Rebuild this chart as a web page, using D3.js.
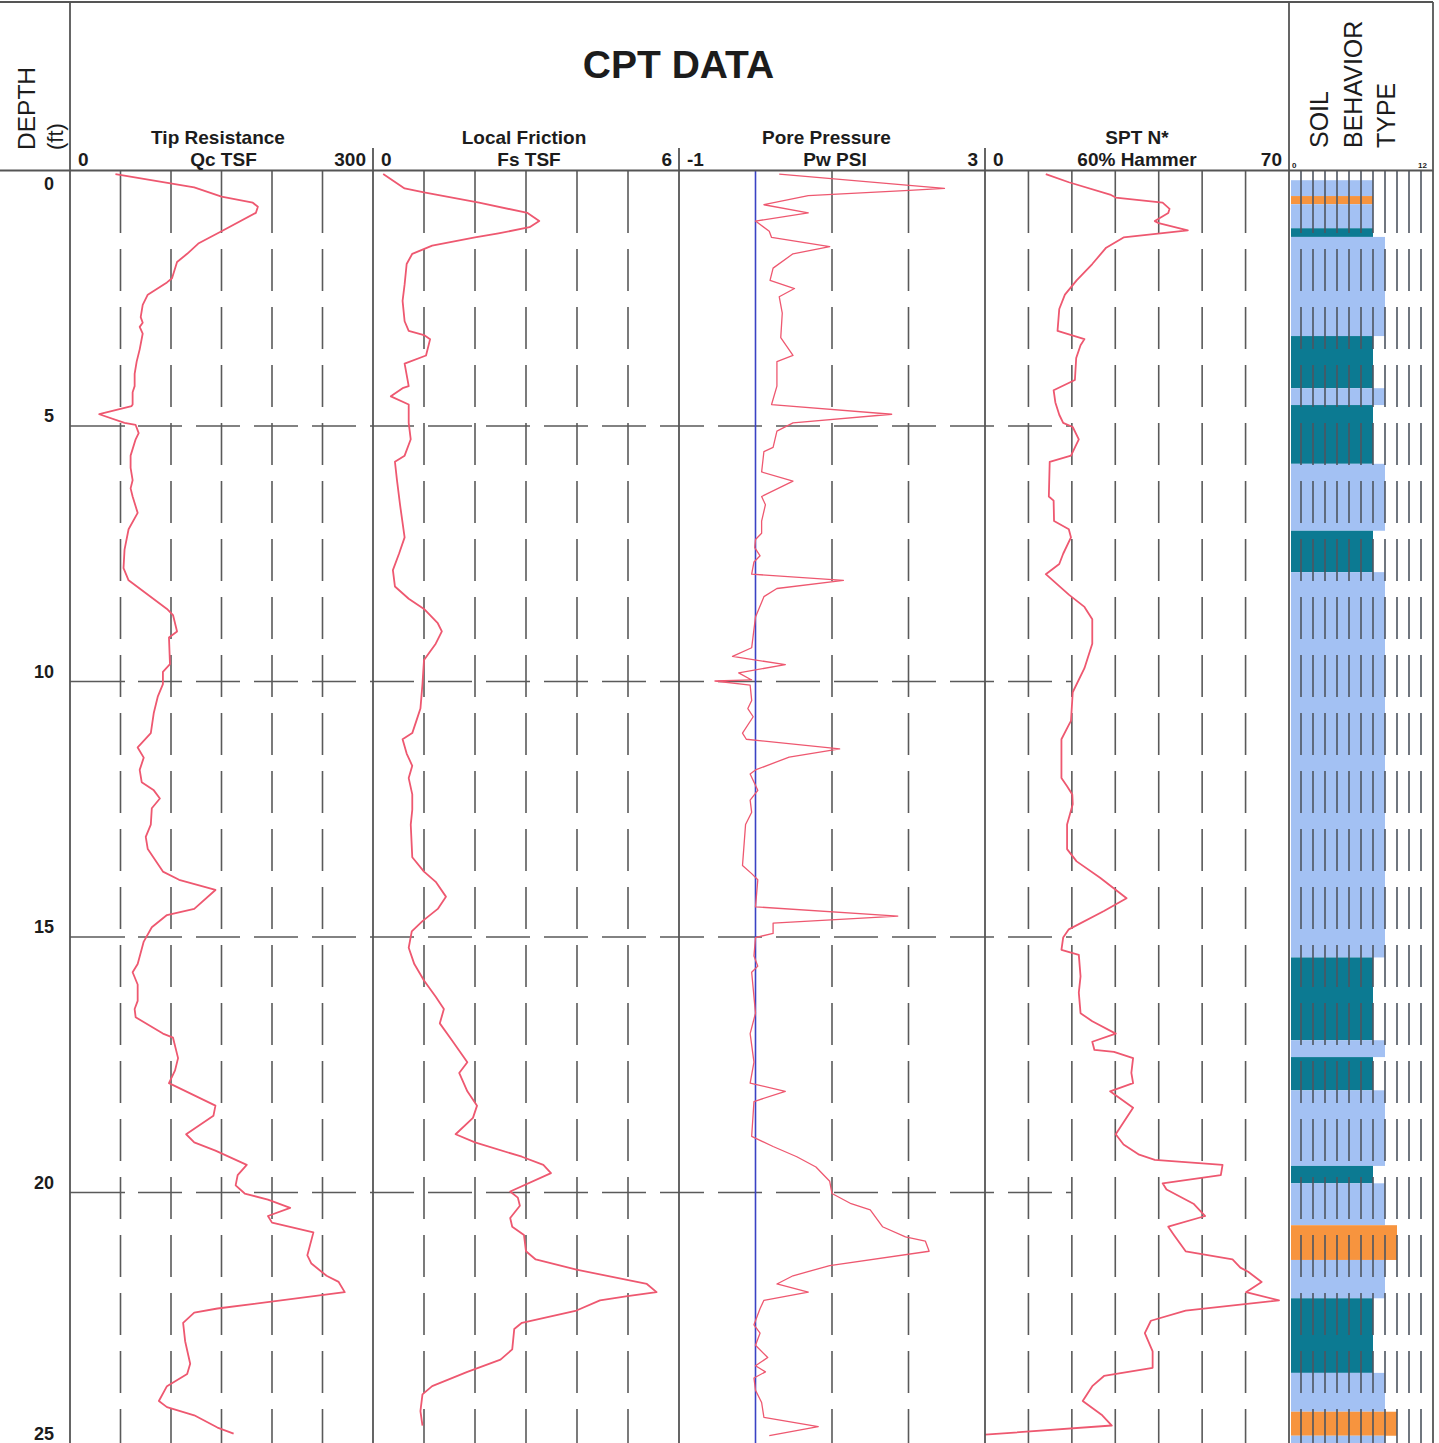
<!DOCTYPE html>
<html>
<head>
<meta charset="utf-8">
<script src="https://cdn.jsdelivr.net/npm/d3@7"></script>
<style>
  html, body { margin: 0; padding: 0; background: #fff; }
  svg { display: block; font-family: "Liberation Sans", Arial, sans-serif; }
</style>
</head>
<body>
<svg id="chart" width="1439" height="1443"></svg>
<script>
// ---- CPT sounding data: [depth ft, value] ----
const tipResistance = [
  [0.07,45],[0.33,123],[0.51,150],[0.63,181],[0.71,186],[0.83,184],[1.19,150],[1.43,127],[1.63,116],
  [1.79,106],[2.11,101],[2.19,96],[2.43,77],[2.63,72],[2.87,70],[2.98,72],[3.06,69],[3.19,72],[3.50,69],
  [3.74,66],[3.98,64],[4.22,64],[4.34,62],[4.58,62],[4.61,61],[4.77,29],[4.94,54],[4.98,65],[5.14,68],
  [5.26,65],[5.58,60],[5.82,60],[6.06,62],[6.22,60],[6.38,62],[6.70,67],[7.02,58],[7.42,54],[7.78,53],
  [8.02,58],[8.58,96],[8.70,102],[9.02,106],[9.14,98],[9.66,99],[9.81,92],[10.05,92],[10.29,87],[10.61,83],
  [11.01,80],[11.29,67],[11.49,73],[11.73,69],[11.97,71],[12.13,83],[12.29,89],[12.48,81],[12.80,80],
  [13.04,75],[13.28,77],[13.72,92],[13.88,108],[14.08,144],[14.45,123],[14.57,96],[14.81,81],[15.09,73],
  [15.53,67],[15.69,62],[15.93,67],[16.25,67],[16.41,64],[16.57,65],[16.89,92],[16.97,102],[17.37,107],
  [17.61,104],[17.86,98],[18.30,144],[18.50,142],[18.86,115],[19.02,123],[19.18,144],[19.46,175],[19.66,166],
  [19.86,164],[20.02,173],[20.14,196],[20.30,218],[20.46,196],[20.59,200],[20.78,241],[21.23,235],[21.39,239],
  [21.63,254],[21.75,266],[21.95,272],[22.27,146],[22.35,123],[22.55,112],[22.91,114],[23.35,119],[23.55,116],
  [23.79,96],[24.08,88],[24.20,96],[24.36,123],[24.60,146],[24.72,162]
];

const localFriction = [
  [0.07,0.20],[0.35,0.62],[0.43,1.00],[0.63,2.08],[0.83,3.03],[0.99,3.26],[1.11,3.07],[1.23,2.46],[1.31,2.00],
  [1.47,1.16],[1.63,0.77],[1.83,0.66],[2.23,0.62],[2.55,0.58],[2.95,0.62],[3.14,0.70],[3.22,1.00],[3.30,1.12],
  [3.62,1.04],[3.78,0.62],[4.22,0.70],[4.26,0.58],[4.42,0.35],[4.58,0.70],[4.94,0.70],[5.26,0.74],[5.58,0.62],
  [5.70,0.43],[6.06,0.47],[6.54,0.53],[7.18,0.62],[7.50,0.51],[7.82,0.39],[8.14,0.43],[8.38,0.70],[8.58,1.00],
  [8.86,1.27],[9.02,1.35],[9.26,1.23],[9.58,1.00],[10.05,0.97],[10.53,0.93],[10.77,0.85],[11.01,0.77],
  [11.13,0.58],[11.41,0.66],[11.65,0.77],[11.89,0.70],[12.21,0.77],[12.51,0.77],[12.80,0.74],[13.44,0.77],
  [13.72,1.00],[13.92,1.23],[14.21,1.43],[14.45,1.27],[14.69,0.97],[14.89,0.76],[15.21,0.70],[15.53,0.81],
  [15.85,1.00],[16.17,1.23],[16.41,1.39],[16.69,1.31],[17.01,1.54],[17.45,1.85],[17.66,1.69],[18.02,1.85],
  [18.30,2.04],[18.54,1.96],[18.86,1.62],[19.02,2.00],[19.30,2.92],[19.46,3.34],[19.62,3.49],[19.98,2.69],
  [20.10,2.84],[20.26,2.88],[20.50,2.69],[20.67,2.73],[20.83,2.96],[21.15,3.00],[21.31,3.19],[21.51,3.99],
  [21.79,5.37],[21.95,5.56],[22.03,4.99],[22.11,4.45],[22.31,3.99],[22.55,2.92],[22.67,2.77],[23.07,2.73],
  [23.27,2.50],[23.51,1.85],[23.79,1.16],[23.95,0.97],[24.28,0.93],[24.56,0.97]
];

const porePressure = [
  [0.07,0.31],[0.29,2.01],[0.35,2.47],[0.39,2.01],[0.49,0.69],[0.67,0.11],[0.83,0.69],[0.99,0.00],[1.19,0.18],
  [1.31,0.21],[1.49,0.97],[1.63,0.49],[1.91,0.23],[2.15,0.19],[2.31,0.51],[2.47,0.31],[2.79,0.35],[3.27,0.33],
  [3.62,0.49],[3.74,0.28],[4.22,0.28],[4.58,0.21],[4.77,1.78],[4.94,0.49],[5.10,0.28],[5.42,0.23],[5.50,0.11],
  [5.90,0.08],[6.08,0.49],[6.38,0.08],[6.54,0.13],[6.86,0.08],[7.10,0.08],[7.22,0.00],[7.38,-0.01],[7.54,0.06],
  [7.66,-0.02],[7.90,-0.05],[8.02,1.15],[8.18,0.28],[8.34,0.11],[8.74,0.00],[9.34,-0.05],[9.51,-0.30],
  [9.67,0.39],[9.83,-0.22],[9.97,-0.05],[9.99,-0.53],[10.07,-0.07],[10.37,-0.05],[10.53,-0.10],[10.69,-0.03],
  [11.01,-0.17],[11.13,-0.12],[11.32,1.10],[11.48,0.44],[11.73,0.00],[11.81,-0.07],[12.13,0.03],[12.32,-0.07],
  [12.56,-0.05],[12.80,-0.13],[13.60,-0.17],[13.76,-0.05],[13.88,0.03],[14.41,0.00],[14.59,1.86],[14.73,0.23],
  [14.93,0.23],[15.01,0.00],[15.37,-0.02],[15.57,0.03],[15.69,-0.05],[16.49,0.00],[16.89,-0.07],[17.45,-0.02],
  [17.86,-0.07],[18.02,0.39],[18.22,-0.02],[18.90,-0.05],[19.10,0.23],[19.30,0.54],[19.50,0.79],[19.78,0.97],
  [20.02,1.00],[20.22,1.25],[20.34,1.50],[20.67,1.66],[20.87,1.96],[20.95,2.22],[21.15,2.27],[21.43,0.97],
  [21.63,0.49],[21.79,0.28],[21.95,0.69],[22.11,0.11],[22.27,0.06],[22.59,-0.02],[22.75,0.06],[22.99,0.00],
  [23.23,0.16],[23.39,0.00],[23.51,0.13],[23.63,-0.02],[23.87,0.00],[24.11,0.08],[24.40,0.11],[24.58,0.82],
  [24.76,0.18]
];

const sptN60 = [
  [0.07,14.0],[0.23,19.3],[0.47,28.8],[0.53,30.1],[0.63,40.9],[0.75,42.5],[0.83,42.2],[0.99,39.1],[1.03,40.0],
  [1.17,46.7],[1.31,31.9],[1.51,27.9],[1.83,24.7],[2.15,21.1],[2.43,18.4],[2.71,17.1],[3.14,16.7],[3.30,22.9],
  [3.42,22.0],[3.67,21.0],[4.10,20.7],[4.30,15.8],[4.54,16.2],[4.78,17.1],[4.94,18.0],[5.02,20.2],[5.26,21.6],
  [5.58,19.8],[5.70,14.9],[6.38,14.7],[6.46,15.8],[6.86,15.9],[7.02,19.3],[7.18,19.8],[7.50,18.0],[7.70,17.1],
  [7.90,14.0],[8.30,19.3],[8.54,22.9],[8.78,24.7],[9.26,24.7],[9.74,22.9],[10.21,20.2],[10.77,19.8],
  [10.85,19.3],[11.13,17.6],[11.89,17.6],[12.05,18.9],[12.21,20.1],[12.40,20.2],[12.80,18.9],[13.28,18.9],
  [13.52,21.1],[13.84,26.5],[14.24,32.6],[14.49,27.4],[14.85,19.3],[15.01,18.0],[15.25,17.6],[15.35,21.6],
  [15.77,22.0],[16.09,21.6],[16.49,22.0],[16.65,24.7],[16.89,30.1],[17.05,24.7],[17.21,25.2],[17.25,29.7],
  [17.37,34.1],[17.66,33.7],[17.86,34.1],[18.02,28.8],[18.34,34.1],[18.86,30.1],[19.06,31.9],[19.26,35.5],
  [19.36,39.1],[19.46,54.7],[19.66,54.3],[19.82,40.9],[19.94,41.8],[20.22,48.0],[20.46,50.7],[20.67,42.2],
  [20.83,43.5],[21.15,46.2],[21.31,57.0],[21.47,58.8],[21.55,60.6],[21.75,63.7],[21.95,60.1],[22.11,67.7],
  [22.31,46.2],[22.51,38.2],[22.75,36.8],[23.11,38.6],[23.43,38.6],[23.59,27.4],[23.79,24.7],[24.08,22.5],
  [24.36,27.0],[24.56,29.2],[24.74,0.0]
];

// ---- Soil behaviour type layers ----
const sbtTop  = [0.19, 0.50, 0.66, 1.13, 1.30, 3.24, 4.26, 4.59, 5.74, 7.05, 7.86, 15.40, 17.02, 17.35, 18.00, 19.48, 19.82, 20.64, 21.32, 22.07, 23.53, 24.29, 24.76];
const sbtBase = [0.50, 0.66, 1.13, 1.30, 3.24, 4.26, 4.59, 5.74, 7.05, 7.86, 15.40, 17.02, 17.35, 18.00, 19.48, 19.82, 20.64, 21.32, 22.07, 23.53, 24.29, 24.76, 25.00];
const sbtZone = [7, 7, 7, 7, 8, 7, 8, 7, 8, 7, 8, 7, 8, 7, 8, 7, 8, 9, 8, 7, 8, 9, 8];
const sbtKind = ["sand to silty sand", "sand", "sand to silty sand", "silty sand to sandy silt",
  "sand to silty sand", "silty sand to sandy silt", "sand to silty sand", "silty sand to sandy silt",
  "sand to silty sand", "silty sand to sandy silt", "sand to silty sand", "silty sand to sandy silt",
  "sand to silty sand", "silty sand to sandy silt", "sand to silty sand", "silty sand to sandy silt",
  "sand to silty sand", "sand", "sand to silty sand", "silty sand to sandy silt", "sand to silty sand",
  "sand", "sand to silty sand"];

// ---- axis labels ----
const depthTicks = [0, 5, 10, 15, 20, 25];
const gridDepths = [5, 10, 15, 20];
const tipTicks = [0, 50, 100, 150, 200, 250, 300];
const fricTicks = [0, 1, 2, 3, 4, 5, 6];
const poreTicks = [-1, 0, 1, 2, 3];
const sptTicks = [0, 10, 20, 30, 40, 50, 60, 70];
const sbtTicks = d3.range(0, 13);

// ---- layout ----
const svg = d3.select("#chart");
const ink = "#1c1c1c", rule = "#5a5a5a", trace = "#ee5870";
const depthY = d3.scaleLinear().domain([0, 25]).range([170.5, 1448]);
const headerY = 170.5, topY = 2, bottomY = 1443;

const tipX  = d3.scaleLinear().domain([0, 300]).range([70, 373]);
const fricX = d3.scaleLinear().domain([0, 6]).range([373, 679]);
const poreX = d3.scaleLinear().domain([-1, 3]).range([679, 985]);
const sptX  = d3.scaleLinear().domain([0, 70]).range([985, 1289]);
const sbtX  = d3.scaleLinear().domain([0, 12]).range([1289, 1433]);

const sbtColor = d3.scaleOrdinal()
  .domain(["sand", "sand to silty sand", "silty sand to sandy silt"])
  .range(["#f7943e", "#a3c1f3", "#0c7a92"]);

const gGrid = svg.append("g");
const gBars = svg.append("g");
const gGrid2 = svg.append("g");
const gLines = svg.append("g");
const gFrame = svg.append("g");
const gText = svg.append("g");

// vertical grid: long solid lead-in, then long dashes
function vGrid(g, x, color) {
  g.append("line").attr("x1", x).attr("x2", x).attr("y1", headerY).attr("y2", 233)
    .attr("stroke", color).attr("stroke-width", 1.6);
  g.append("line").attr("x1", x).attr("x2", x).attr("y1", 249).attr("y2", bottomY)
    .attr("stroke", color).attr("stroke-width", 1.6).attr("stroke-dasharray", "42 16");
}

// interior gridlines for each track
tipTicks.slice(1, -1).forEach(v => vGrid(gGrid, tipX(v), rule));
fricTicks.slice(1, -1).forEach(v => vGrid(gGrid, fricX(v), rule));
poreTicks.slice(2, -1).forEach(v => vGrid(gGrid, poreX(v), rule));
sptTicks.slice(1, -1).forEach(v => vGrid(gGrid, sptX(v), rule));

// horizontal depth gridlines, running from the depth column into the SPT track
gridDepths.forEach(d => {
  const yy = depthY(d);
  gGrid.append("line").attr("x1", tipX(0)).attr("x2", 125).attr("y1", yy).attr("y2", yy)
    .attr("stroke", rule).attr("stroke-width", 1.6);
  gGrid.append("line").attr("x1", 138).attr("x2", sptX(20)).attr("y1", yy).attr("y2", yy)
    .attr("stroke", rule).attr("stroke-width", 1.6).attr("stroke-dasharray", "44 14");
});

// soil behaviour type bars
gBars.selectAll("rect").data(sbtTop).join("rect")
  .attr("x", sbtX(0) + 2)
  .attr("y", (d, i) => depthY(d))
  .attr("width", (d, i) => sbtX(sbtZone[i]) - sbtX(0) - 2)
  .attr("height", (d, i) => depthY(sbtBase[i]) - depthY(d))
  .attr("fill", (d, i) => sbtColor(sbtKind[i]));

// SBT gridlines drawn over the bars
sbtTicks.slice(1, -1).forEach(v => vGrid(gGrid2, sbtX(v), "#4e5560"));

// zero pore pressure reference
gLines.append("line").attr("x1", poreX(0)).attr("x2", poreX(0)).attr("y1", headerY).attr("y2", bottomY)
  .attr("stroke", "#3a43c4").attr("stroke-width", 1.6);

// traces
function drawTrace(data, xs, width) {
  const line = d3.line().x(p => xs(p[1])).y(p => depthY(p[0]));
  gLines.append("path").datum(data).attr("d", line)
    .attr("fill", "none").attr("stroke", trace).attr("stroke-width", width)
    .attr("stroke-linejoin", "round");
}
drawTrace(tipResistance, tipX, 1.8);
drawTrace(localFriction, fricX, 1.8);
drawTrace(porePressure, poreX, 1.3);
drawTrace(sptN60, sptX, 1.8);

// frame
const frame = (x1, y1, x2, y2, w) => gFrame.append("line")
  .attr("x1", x1).attr("y1", y1).attr("x2", x2).attr("y2", y2)
  .attr("stroke", "#555").attr("stroke-width", w || 1.8);
frame(0, topY, 1433, topY);
frame(0, headerY, 1433, headerY);
frame(tipX(0), topY, tipX(0), bottomY);
frame(fricX(0), 148, fricX(0), bottomY);
frame(poreX(-1), 148, poreX(-1), bottomY);
frame(sptX(0), 148, sptX(0), bottomY);
frame(sbtX(0), topY, sbtX(0), bottomY);
frame(sbtX(12), topY, sbtX(12), bottomY);

// ---- text ----
const txt = (x, y, s, opt) => {
  const t = gText.append("text").attr("x", x).attr("y", y).text(s)
    .attr("fill", ink).attr("font-size", opt.size).attr("font-weight", opt.bold ? "bold" : "normal")
    .attr("text-anchor", opt.anchor || "start");
  if (opt.rotate) t.attr("transform", `rotate(-90 ${x} ${y})`);
  return t;
};

txt(678.5, 78, "CPT DATA", { size: 39, bold: true, anchor: "middle" });

txt(35, 150, "DEPTH", { size: 24.5, rotate: true });
txt(63, 150, "(ft)", { size: 22, rotate: true });

txt(1328, 148, "SOIL", { size: 25, rotate: true });
txt(1362, 148, "BEHAVIOR", { size: 25, rotate: true });
txt(1395, 148, "TYPE", { size: 25, rotate: true });

const heads = [
  { x1: 218, t1: "Tip Resistance", x2: 223.5, t2: "Qc TSF" },
  { x1: 524, t1: "Local Friction", x2: 529, t2: "Fs TSF" },
  { x1: 826.5, t1: "Pore Pressure", x2: 835, t2: "Pw PSI" },
  { x1: 1137, t1: "SPT N*", x2: 1137, t2: "60% Hammer" }
];
heads.forEach(h => {
  txt(h.x1, 144, h.t1, { size: 19, bold: true, anchor: "middle" });
  txt(h.x2, 166, h.t2, { size: 19, bold: true, anchor: "middle" });
});

// track end labels
const ends = [
  [tipX, tipTicks], [fricX, fricTicks], [poreX, poreTicks], [sptX, sptTicks]
];
ends.forEach(([xs, ticks]) => {
  const lo = ticks[0], hi = ticks[ticks.length - 1];
  txt(xs(lo) + 8, 166, String(lo), { size: 19, bold: true });
  txt(xs(hi) - 7, 166, String(hi), { size: 19, bold: true, anchor: "end" });
});
txt(sbtX(0) + 3, 168, String(sbtTicks[0]), { size: 8, bold: true });
txt(sbtX(12) - 6, 168, String(sbtTicks[12]), { size: 8, bold: true, anchor: "end" });

// depth labels
depthTicks.forEach(d => {
  const yy = d === 0 ? 190 : Math.min(depthY(d) - 4, 1440);
  txt(54, yy, String(d), { size: 18, bold: true, anchor: "end" });
});
</script>
</body>
</html>
